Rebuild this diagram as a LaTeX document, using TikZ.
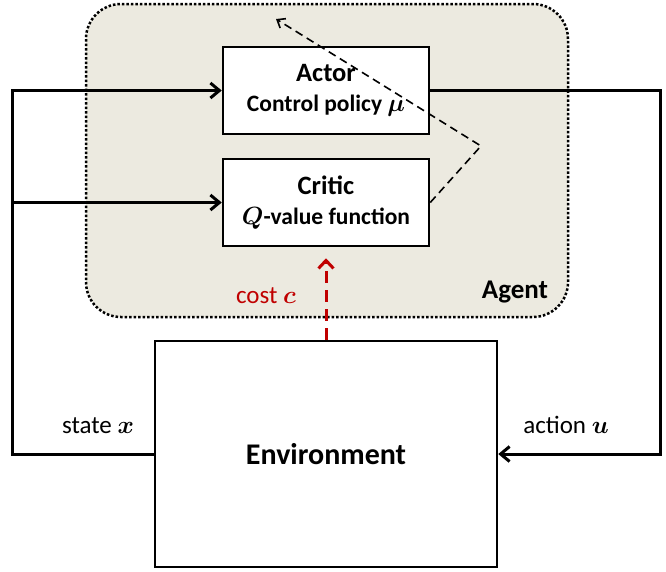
\documentclass[tikz,border=0pt]{standalone}
\usepackage{fontspec}
\setmainfont{Carlito}
\usepackage{amsmath,bm}
\usepackage{tikz}
\usetikzlibrary{positioning,arrows.meta}
\definecolor{agentbg}{RGB}{236,234,224}
\definecolor{costred}{RGB}{192,0,0}

\begin{document}
\begin{tikzpicture}[
    x=1pt,y=-1pt,
    box/.style={draw,line width=2.5pt,fill=white,minimum width=206pt,
                minimum height=87pt,align=center,
                font=\bfseries\fontsize{23.5}{30}\selectfont},
    title/.style={font=\fontsize{26.5}{30}\selectfont},
    arr/.style={-{Straight Barb[length=9pt,width=15pt]},line width=3pt},
    dasharr/.style={-{Straight Barb[length=7pt,width=11pt]},line width=1.6pt,
                    dash pattern=on 8pt off 5pt},
    costarr/.style={-{Straight Barb[length=8pt,width=15pt]},line width=3pt,
                    color=costred,dash pattern=on 12pt off 7pt},
    lbl/.style={anchor=base,font=\fontsize{25}{30}\selectfont},
  ]
    \useasboundingbox (0,0) rectangle (666,571);
    % agent region
    \draw[line width=2.5pt,dash pattern=on 2.5pt off 2pt,rounded corners=35pt,
          fill=agentbg] (86,4) rectangle (568,317);
    \node[box] (actor) at (326,90.5)
      {{\fontsize{26.5}{30}\selectfont Actor}\\ Control policy $\bm{\mu}$};
    \node[box,below=22.5pt of actor] (critic)
      {{\fontsize{26.5}{30}\selectfont Critic}\\ $\bm{Q}$-value function};
    \node[box,minimum width=342pt,minimum height=226pt,
          font=\bfseries\fontsize{30}{36}\selectfont] (env) at (326,454) {Environment};
    \node[lbl,font=\bfseries\fontsize{27}{30}\selectfont] (agent) at (515,298) {Agent};
    \node[lbl,text=costred] (cost) at (266,303) {cost $\bm{c}$};
    \node[lbl] (state) at (98,433) {state $\bm{x}$};
    \node[lbl] (action) at (566,433) {action $\bm{u}$};
    \coordinate (tap) at (12,202.5);
    \coordinate (bend) at (481,146);
    \coordinate (tip) at (276,19);
    % loop
    \draw[arr] (env.west) -| (12,90.5) -- (actor.west);
    \draw[arr] (tap |- critic.west) -- (critic.west);
    \draw[arr] (actor.east) -| (660,454) -- (env.east);
    \draw[dasharr] (critic.east) -- (bend) -- (tip);
    \draw[costarr] (env.north) -- ([yshift=-11pt]critic.south);
  \end{tikzpicture}
\end{document}
